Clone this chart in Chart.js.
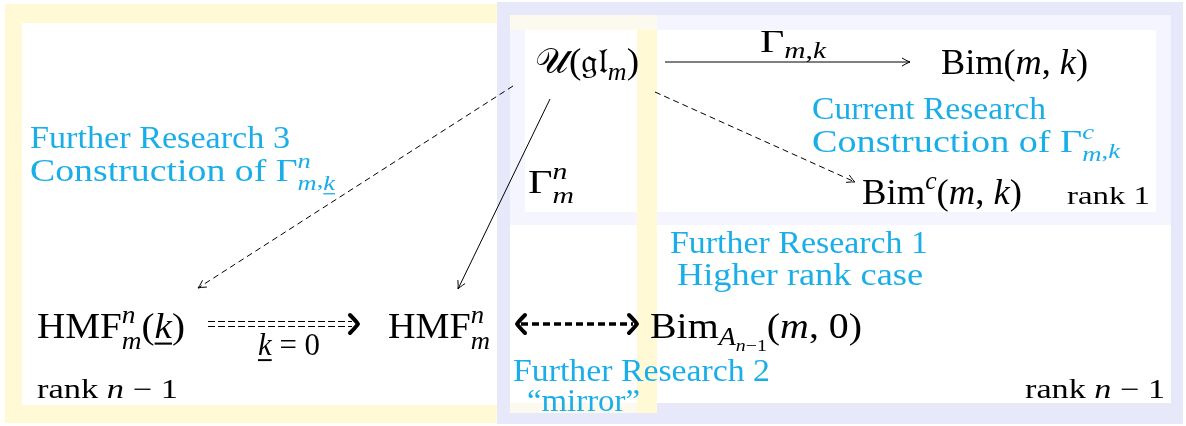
<!DOCTYPE html>
<html>
<head>
<meta charset="utf-8">
<script src="https://cdn.jsdelivr.net/npm/chart.js@4.4.1/dist/chart.umd.min.js"></script>
<style>
  html, body { margin: 0; padding: 0; background: #fff; }
  #diagram { display: block; }
</style>
</head>
<body>
<canvas id="diagram" width="1186" height="426"></canvas>
<script>
const W = 1186, H = 426;

// background panels: [x1, y1, x2, y2, colour key]
const panels = [
    [5, 4, 497, 423, 'yellow'],
    [22, 23, 497, 405, 'white'],
    [497, 2, 1183, 424, 'lavender'],
    [510, 15, 1171, 225, 'pale'],
    [510, 15, 657, 30, 'cream'],
    [525, 30, 1156, 212, 'white'],
    [510, 225, 1171, 403, 'white'],
    [510, 403, 657, 413, 'cream'],
    [637, 30, 657, 413, 'yellow']
];

// arrows: [x1, y1, x2, y2, kind]
const edges = [
    [665, 62, 910, 62, 'solid'],
    [655, 92, 855, 182, 'dashed'],
    [550, 99, 458, 289, 'solid'],
    [513, 86, 198, 288, 'dashed'],
    [208, 324, 358, 324, 'double'],
    [517, 324, 637, 324, 'thick']
];

// labels: [x, baseline, size, width, colour, parts]
// part flags: i italic, p sup, b sub, c sub of sub, s stack on previous script, u underline
const labels = [
    [535, 73, 35, 104, 'k', [['𝒰(𝔤𝔩', ''], ['m', 'ib'], [')', '']]],
    [760, 52, 32, 66, 'k', [['Γ', ''], ['m', 'ib'], [',', 'b'], ['k', 'ib']]],
    [941, 74, 35, 147, 'k', [['Bim(', ''], ['m', 'i'], [', ', ''], ['k', 'i'], [')', '']]],
    [812, 119, 31, 234, 'c', [['Current Research', '']]],
    [812, 152, 31, 308, 'c', [['Construction of Γ', ''], ['c', 'ip'], ['m', 'ibs'], [',', 'b'], ['k', 'ib']]],
    [862, 204, 35, 160, 'k', [['Bim', ''], ['c', 'ip'], ['(', ''], ['m', 'i'], [', ', ''], ['k', 'i'], [')', '']]],
    [1067, 204, 26, 83, 'k', [['rank 1', '']]],
    [30, 148, 31, 260, 'c', [['Further Research 3', '']]],
    [30, 181, 31, 305, 'c', [['Construction of Γ', ''], ['n', 'ip'], ['m', 'ibs'], [',', 'b'], ['k', 'ibu']]],
    [528, 193, 33, 46, 'k', [['Γ', ''], ['n', 'ip'], ['m', 'ibs']]],
    [37, 338, 35, 148, 'k', [['HMF', ''], ['n', 'ip'], ['m', 'ibs'], ['(', ''], ['k', 'iu'], [')', '']]],
    [258, 355, 32, 62, 'k', [['k', 'iu'], [' = 0', '']]],
    [388, 338, 35, 102, 'k', [['HMF', ''], ['n', 'ip'], ['m', 'ibs']]],
    [650, 338, 35, 212, 'k', [['Bim', ''], ['A', 'ib'], ['n', 'ic'], ['−1', 'c'], ['(', ''], ['m', 'i'], [', 0)', '']]],
    [670, 253, 31, 258, 'c', [['Further Research 1', '']]],
    [677, 285, 31, 246, 'c', [['Higher rank case', '']]],
    [513, 381, 31, 257, 'c', [['Further Research 2', '']]],
    [527, 411, 31, 113, 'c', [['\u201Cmirror\u201D', '']]],
    [37, 398, 27, 141, 'k', [['rank ', ''], ['n', 'i'], [' − 1', '']]],
    [1025, 398, 27, 140, 'k', [['rank ', ''], ['n', 'i'], [' − 1', '']]]
];

const colours = {
    yellow: '#FFF9D6', white: '#FFFFFF', lavender: '#E8E8FB',
    pale: '#F5F5FF', cream: '#FCFAEE', k: '#000000', c: '#1AAEE8'
};
const FAMILY = '"Liberation Serif", "Times New Roman", serif';

function partStyle(flags, size) {
    let s = size, dy = 0;
    if (flags.includes('p')) { s = size * 0.7; dy = -size * 0.42; }
    if (flags.includes('b')) { s = size * 0.7; dy = flags.includes('s') || flags.includes('u') ? size * 0.3 : size * 0.2; }
    if (flags.includes('c')) { s = size * 0.5; dy = size * 0.36; }
    const font = (flags.includes('i') ? 'italic ' : '') + s.toFixed(1) + 'px ' + FAMILY;
    return { font, dy, s };
}

function layoutParts(ctx, parts, size) {
    let x = 0, scriptStart = 0, maxX = 0;
    const out = [];
    parts.forEach(([t, f], k) => {
        const st = partStyle(f, size);
        ctx.font = st.font;
        const prevScript = k > 0 && /[pb]/.test(parts[k - 1][1]);
        if (f.includes('s')) { maxX = Math.max(maxX, x); x = scriptStart; }
        else if (/[pbc]/.test(f) && !prevScript) scriptStart = x;
        else if (!/[pbc]/.test(f)) x = Math.max(x, maxX);
        const w = ctx.measureText(t).width;
        out.push({ t, f, x, w, ...st });
        x += w;
        if (!/[pbc]/.test(f)) maxX = x;
    });
    return { out, width: Math.max(x, maxX) };
}

function arrowHead(ctx, x1, y1, x2, y2, kind) {
    const a = Math.atan2(y2 - y1, x2 - x1);
    const ux = Math.cos(a), uy = Math.sin(a), px = -uy, py = ux;
    ctx.save();
    ctx.setLineDash([]);
    ctx.strokeStyle = '#000';
    if (kind === 'double' || kind === 'thick') {
        // bold curved chevron
        ctx.lineWidth = 4; ctx.lineCap = 'round'; ctx.lineJoin = 'round';
        const L = 8, S = 9;
        ctx.beginPath();
        ctx.moveTo(x2 - L * ux + S * px, y2 - L * uy + S * py);
        ctx.quadraticCurveTo(x2 - 2 * ux + 3 * px, y2 - 2 * uy + 3 * py, x2, y2);
        ctx.quadraticCurveTo(x2 - 2 * ux - 3 * px, y2 - 2 * uy - 3 * py, x2 - L * ux - S * px, y2 - L * uy - S * py);
        ctx.stroke();
    } else {
        ctx.lineWidth = 1;
        const L = 8, S = 4;
        ctx.beginPath();
        ctx.moveTo(x2 - L * ux + S * px, y2 - L * uy + S * py);
        ctx.quadraticCurveTo(x2 - 2 * ux + 0.5 * px, y2 - 2 * uy + 0.5 * py, x2, y2);
        ctx.quadraticCurveTo(x2 - 2 * ux - 0.5 * px, y2 - 2 * uy - 0.5 * py, x2 - L * ux - S * px, y2 - L * uy - S * py);
        ctx.stroke();
    }
    ctx.restore();
}

const diagramPlugin = {
    id: 'diagram',
    beforeDatasetsDraw(chart) {
        const { ctx, scales: { x, y } } = chart;
        ctx.save();
        panels.forEach(([x1, y1, x2, y2, c]) => {
            ctx.fillStyle = colours[c];
            const px1 = x.getPixelForValue(x1), py1 = y.getPixelForValue(y1);
            ctx.fillRect(px1, py1, x.getPixelForValue(x2) - px1, y.getPixelForValue(y2) - py1);
        });
        ctx.restore();
    },
    afterDatasetsDraw(chart) {
        const { ctx, scales: { x, y } } = chart;
        edges.forEach(([x1, y1, x2, y2, kind]) => {
            const p1 = [x.getPixelForValue(x1), y.getPixelForValue(y1)];
            const p2 = [x.getPixelForValue(x2), y.getPixelForValue(y2)];
            arrowHead(ctx, p1[0], p1[1], p2[0], p2[1], kind);
            if (kind === 'thick') arrowHead(ctx, p2[0], p2[1], p1[0], p1[1], kind);
        });
        labels.forEach(([lx, ly, size, width, col, parts]) => {
            ctx.save();
            const { out, width: nat } = layoutParts(ctx, parts, size);
            ctx.translate(x.getPixelForValue(lx), y.getPixelForValue(ly));
            ctx.scale(width / nat, 1);
            ctx.fillStyle = colours[col];
            ctx.strokeStyle = colours[col];
            ctx.textBaseline = 'alphabetic';
            out.forEach(p => {
                ctx.font = p.font;
                ctx.fillText(p.t, p.x, p.dy);
                if (p.f.includes('u')) {
                    ctx.lineWidth = Math.max(1, p.s * 0.06);
                    ctx.beginPath();
                    ctx.moveTo(p.x, p.dy + p.s * 0.16);
                    ctx.lineTo(p.x + p.w, p.dy + p.s * 0.16);
                    ctx.stroke();
                }
            });
            ctx.restore();
        });
    }
};

const lineSets = [];
edges.forEach(([x1, y1, x2, y2, kind]) => {
    const base = { showLine: true, pointRadius: 0, borderColor: '#000', fill: false, tension: 0 };
    if (kind === 'double') {
        [-2.5, 2.5].forEach(o => lineSets.push({ ...base, data: [{ x: x1, y: y1 + o }, { x: x2 - 6, y: y2 + o }], borderWidth: 1.2, borderDash: [7, 3] }));
    } else if (kind === 'thick') {
        lineSets.push({ ...base, data: [{ x: x1 + 4, y: y1 }, { x: x2 - 4, y: y2 }], borderWidth: 3.6, borderDash: [7, 4] });
    } else {
        lineSets.push({ ...base, data: [{ x: x1, y: y1 }, { x: x2, y: y2 }], borderWidth: 1, borderDash: kind === 'dashed' ? [6, 4] : [] });
    }
});

new Chart(document.getElementById('diagram').getContext('2d'), {
    type: 'scatter',
    data: { datasets: lineSets },
    options: {
        responsive: false,
        animation: false,
        events: [],
        layout: { padding: 0 },
        plugins: { legend: { display: false }, tooltip: { enabled: false } },
        scales: {
            x: { type: 'linear', min: 0, max: W, display: false },
            y: { type: 'linear', min: 0, max: H, reverse: true, display: false }
        }
    },
    plugins: [diagramPlugin]
});
</script>
</body>
</html>
